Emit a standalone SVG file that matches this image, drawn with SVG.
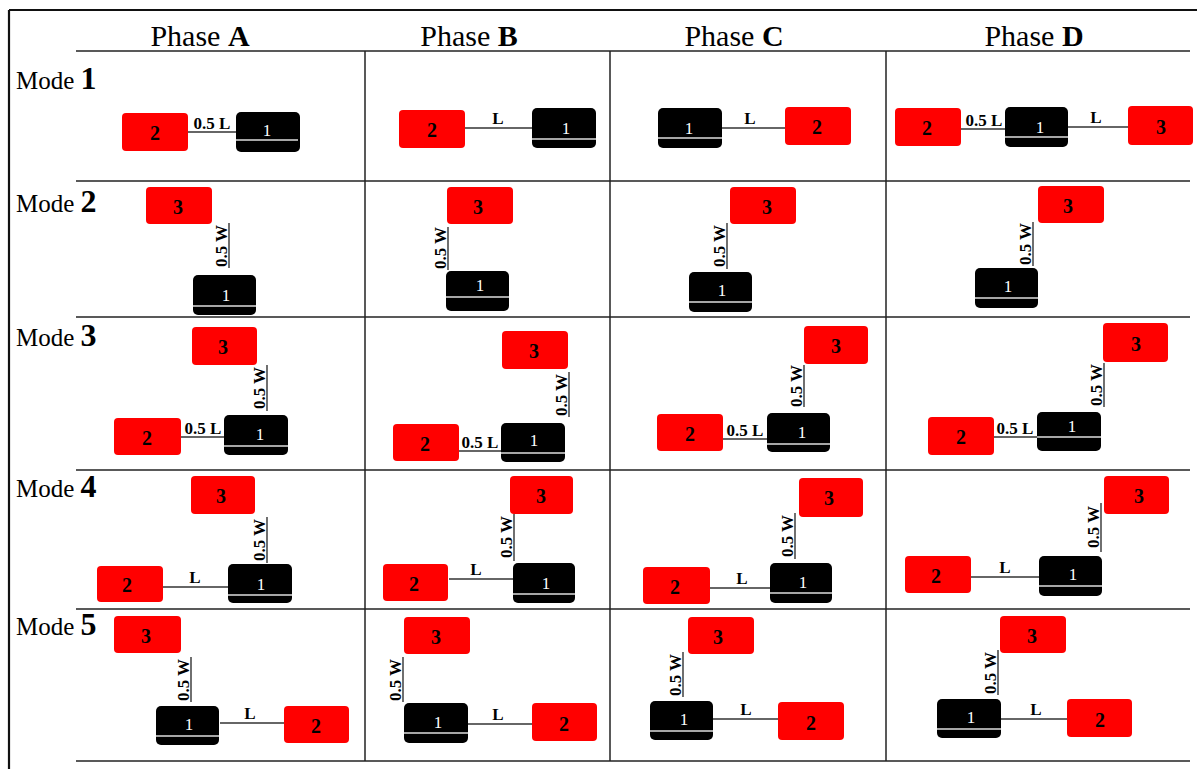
<svg xmlns="http://www.w3.org/2000/svg" width="1197" height="769" viewBox="0 0 1197 769">
  <style>
    .frame { stroke: #111; stroke-width: 2.2; fill: none; }
    .grid { stroke: #222; stroke-width: 1.5; fill: none; }
    .hd { font-family: "Liberation Serif", "Times New Roman", serif; font-size: 30px; fill: #000; text-anchor: middle; }
    .md { font-family: "Liberation Serif", "Times New Roman", serif; font-size: 25px; fill: #000; }
    .num { font-weight: bold; font-size: 32px; }
    .red { fill: #ff0000; }
    .blk { fill: #000; }
    .wl { stroke: #dedede; stroke-width: 1.6; }
    .rt { font-family: "Liberation Serif", "Times New Roman", serif; font-size: 20px; font-weight: bold; fill: #000; text-anchor: middle; }
    .bt { font-family: "Liberation Serif", "Times New Roman", serif; font-size: 17px; fill: #fff; text-anchor: middle; }
    .cn { stroke: #333; stroke-width: 1.4; fill: none; }
    .lb { font-family: "Liberation Serif", "Times New Roman", serif; font-size: 17px; font-weight: bold; fill: #000; text-anchor: middle; }
  </style>

  <!-- table frame and rules -->
  <g id="grid">
    <line class="frame" x1="9" y1="10" x2="1197" y2="10"/>
    <line class="frame" x1="9" y1="10" x2="9" y2="769"/>
    <line class="grid" x1="76" y1="51" x2="1190" y2="51"/>
    <line class="grid" x1="76" y1="181" x2="1190" y2="181"/>
    <line class="grid" x1="76" y1="317" x2="1190" y2="317"/>
    <line class="grid" x1="76" y1="470" x2="1190" y2="470"/>
    <line class="grid" x1="76" y1="609" x2="1190" y2="609"/>
    <line class="grid" x1="76" y1="761" x2="1190" y2="761"/>
    <line class="grid" x1="365" y1="51" x2="365" y2="761"/>
    <line class="grid" x1="610" y1="51" x2="610" y2="761"/>
    <line class="grid" x1="886" y1="51" x2="886" y2="761"/>
  </g>

  <!-- column and row headings -->
  <g id="headings">
    <text class="hd" x="200" y="46">Phase <tspan font-weight="bold">A</tspan></text>
    <text class="hd" x="469" y="46">Phase <tspan font-weight="bold">B</tspan></text>
    <text class="hd" x="734" y="46">Phase <tspan font-weight="bold">C</tspan></text>
    <text class="hd" x="1034" y="46">Phase <tspan font-weight="bold">D</tspan></text>
    <text class="md" x="16" y="89">Mode <tspan class="num">1</tspan></text>
    <text class="md" x="16" y="212">Mode <tspan class="num">2</tspan></text>
    <text class="md" x="16" y="346">Mode <tspan class="num">3</tspan></text>
    <text class="md" x="16" y="497">Mode <tspan class="num">4</tspan></text>
    <text class="md" x="16" y="635">Mode <tspan class="num">5</tspan></text>
  </g>

  <!-- links between units, with spacing labels -->
  <g id="connectors">
    <!-- Mode 1 -->
    <line class="cn" x1="188" y1="132" x2="236" y2="132"/><text class="lb" x="212" y="129">0.5 L</text>
    <line class="cn" x1="465" y1="128" x2="532" y2="128"/><text class="lb" x="498" y="124">L</text>
    <line class="cn" x1="722" y1="128" x2="785" y2="128"/><text class="lb" x="750" y="124">L</text>
    <line class="cn" x1="961" y1="129" x2="1005" y2="129"/><text class="lb" x="984" y="126">0.5 L</text>
    <line class="cn" x1="1068" y1="127" x2="1128" y2="127"/><text class="lb" x="1096" y="123">L</text>
    <!-- Mode 2 -->
    <line class="cn" x1="229" y1="223" x2="229" y2="268"/><text class="lb" transform="translate(227,246) rotate(-90)">0.5 W</text>
    <line class="cn" x1="448" y1="227" x2="448" y2="270"/><text class="lb" transform="translate(446,248) rotate(-90)">0.5 W</text>
    <line class="cn" x1="727" y1="223" x2="727" y2="269"/><text class="lb" transform="translate(725,246) rotate(-90)">0.5 W</text>
    <line class="cn" x1="1033" y1="222" x2="1033" y2="266"/><text class="lb" transform="translate(1031,244) rotate(-90)">0.5 W</text>
    <!-- Mode 3 -->
    <line class="cn" x1="181" y1="437" x2="224" y2="437"/><text class="lb" x="203" y="434">0.5 L</text>
    <line class="cn" x1="267" y1="365" x2="267" y2="411"/><text class="lb" transform="translate(265,388) rotate(-90)">0.5 W</text>
    <line class="cn" x1="459" y1="451" x2="501" y2="451"/><text class="lb" x="480" y="448">0.5 L</text>
    <line class="cn" x1="569" y1="372" x2="569" y2="417"/><text class="lb" transform="translate(567,395) rotate(-90)">0.5 W</text>
    <line class="cn" x1="723" y1="439" x2="767" y2="439"/><text class="lb" x="745" y="436">0.5 L</text>
    <line class="cn" x1="804" y1="365" x2="804" y2="407"/><text class="lb" transform="translate(802,386) rotate(-90)">0.5 W</text>
    <line class="cn" x1="994" y1="437" x2="1037" y2="437"/><text class="lb" x="1015" y="434">0.5 L</text>
    <line class="cn" x1="1104" y1="363" x2="1104" y2="407"/><text class="lb" transform="translate(1102,385) rotate(-90)">0.5 W</text>
    <!-- Mode 4 -->
    <line class="cn" x1="163" y1="587" x2="228" y2="587"/><text class="lb" x="195" y="583">L</text>
    <line class="cn" x1="267" y1="517" x2="267" y2="563"/><text class="lb" transform="translate(265,540) rotate(-90)">0.5 W</text>
    <line class="cn" x1="449" y1="579" x2="513" y2="579"/><text class="lb" x="476" y="575">L</text>
    <line class="cn" x1="514" y1="514" x2="514" y2="561"/><text class="lb" transform="translate(512,537) rotate(-90)">0.5 W</text>
    <line class="cn" x1="709" y1="588" x2="770" y2="588"/><text class="lb" x="742" y="584">L</text>
    <line class="cn" x1="795" y1="513" x2="795" y2="559"/><text class="lb" transform="translate(793,536) rotate(-90)">0.5 W</text>
    <line class="cn" x1="971" y1="577" x2="1039" y2="577"/><text class="lb" x="1005" y="573">L</text>
    <line class="cn" x1="1101" y1="503" x2="1101" y2="552"/><text class="lb" transform="translate(1099,527) rotate(-90)">0.5 W</text>
    <!-- Mode 5 -->
    <line class="cn" x1="220" y1="723" x2="284" y2="723"/><text class="lb" x="250" y="719">L</text>
    <line class="cn" x1="191" y1="657" x2="191" y2="702"/><text class="lb" transform="translate(189,680) rotate(-90)">0.5 W</text>
    <line class="cn" x1="468" y1="724" x2="532" y2="724"/><text class="lb" x="498" y="720">L</text>
    <line class="cn" x1="403" y1="657" x2="403" y2="702"/><text class="lb" transform="translate(401,680) rotate(-90)">0.5 W</text>
    <line class="cn" x1="713" y1="719" x2="778" y2="719"/><text class="lb" x="746" y="715">L</text>
    <line class="cn" x1="683" y1="652" x2="683" y2="697"/><text class="lb" transform="translate(681,675) rotate(-90)">0.5 W</text>
    <line class="cn" x1="1001" y1="719" x2="1067" y2="719"/><text class="lb" x="1036" y="715">L</text>
    <line class="cn" x1="998" y1="650" x2="998" y2="695"/><text class="lb" transform="translate(996,673) rotate(-90)">0.5 W</text>
  </g>

  <!-- units: red = 2/3, black = 1 (white rail near the bottom) -->
  <!-- Mode 1 -->
  <g id="m1a-u2"><rect class="red" x="122" y="113" width="66" height="38" rx="4"/><text class="rt" x="155" y="140">2</text></g>
  <g id="m1a-u1"><rect class="blk" x="236" y="112" width="64" height="40" rx="5"/><line class="wl" x1="236" y1="140" x2="298" y2="140"/><text class="bt" x="267" y="136">1</text></g>
  <g id="m1b-u2"><rect class="red" x="399" y="110" width="66" height="38" rx="4"/><text class="rt" x="432" y="137">2</text></g>
  <g id="m1b-u1"><rect class="blk" x="532" y="108" width="64" height="40" rx="5"/><line class="wl" x1="532" y1="139" x2="596" y2="139"/><text class="bt" x="566" y="134">1</text></g>
  <g id="m1c-u1"><rect class="blk" x="658" y="108" width="64" height="40" rx="5"/><line class="wl" x1="658" y1="138" x2="722" y2="138"/><text class="bt" x="689" y="134">1</text></g>
  <g id="m1c-u2"><rect class="red" x="785" y="107" width="66" height="38" rx="4"/><text class="rt" x="817" y="134">2</text></g>
  <g id="m1d-u2"><rect class="red" x="895" y="108" width="66" height="38" rx="4"/><text class="rt" x="927" y="135">2</text></g>
  <g id="m1d-u1"><rect class="blk" x="1005" y="107" width="63" height="40" rx="5"/><line class="wl" x1="1005" y1="137" x2="1068" y2="137"/><text class="bt" x="1040" y="133">1</text></g>
  <g id="m1d-u3"><rect class="red" x="1128" y="106" width="65" height="39" rx="4"/><text class="rt" x="1161" y="134">3</text></g>

  <!-- Mode 2 -->
  <g id="m2a-u3"><rect class="red" x="146" y="187" width="66" height="37" rx="4"/><text class="rt" x="178" y="214">3</text></g>
  <g id="m2a-u1"><rect class="blk" x="193" y="275" width="63" height="40" rx="5"/><line class="wl" x1="193" y1="306" x2="256" y2="306"/><text class="bt" x="226" y="301">1</text></g>
  <g id="m2b-u3"><rect class="red" x="447" y="187" width="66" height="37" rx="4"/><text class="rt" x="478" y="214">3</text></g>
  <g id="m2b-u1"><rect class="blk" x="446" y="271" width="63" height="40" rx="5"/><line class="wl" x1="446" y1="297" x2="509" y2="297"/><text class="bt" x="480" y="291">1</text></g>
  <g id="m2c-u3"><rect class="red" x="730" y="187" width="66" height="37" rx="4"/><text class="rt" x="767" y="214">3</text></g>
  <g id="m2c-u1"><rect class="blk" x="689" y="272" width="63" height="40" rx="5"/><line class="wl" x1="689" y1="302" x2="752" y2="302"/><text class="bt" x="722" y="296">1</text></g>
  <g id="m2d-u3"><rect class="red" x="1038" y="186" width="66" height="37" rx="4"/><text class="rt" x="1068" y="213">3</text></g>
  <g id="m2d-u1"><rect class="blk" x="975" y="268" width="63" height="40" rx="5"/><line class="wl" x1="975" y1="298" x2="1038" y2="298"/><text class="bt" x="1008" y="292">1</text></g>

  <!-- Mode 3 -->
  <g id="m3a-u3"><rect class="red" x="192" y="327" width="65" height="38" rx="4"/><text class="rt" x="223" y="354">3</text></g>
  <g id="m3a-u1"><rect class="blk" x="224" y="415" width="64" height="40" rx="5"/><line class="wl" x1="224" y1="446" x2="288" y2="446"/><text class="bt" x="260" y="440">1</text></g>
  <g id="m3a-u2"><rect class="red" x="114" y="418" width="67" height="37" rx="4"/><text class="rt" x="147" y="445">2</text></g>
  <g id="m3b-u3"><rect class="red" x="502" y="331" width="66" height="38" rx="4"/><text class="rt" x="534" y="358">3</text></g>
  <g id="m3b-u1"><rect class="blk" x="501" y="423" width="64" height="39" rx="5"/><line class="wl" x1="501" y1="453" x2="565" y2="453"/><text class="bt" x="534" y="446">1</text></g>
  <g id="m3b-u2"><rect class="red" x="393" y="424" width="66" height="37" rx="4"/><text class="rt" x="425" y="451">2</text></g>
  <g id="m3c-u3"><rect class="red" x="804" y="326" width="64" height="38" rx="4"/><text class="rt" x="836" y="353">3</text></g>
  <g id="m3c-u1"><rect class="blk" x="767" y="413" width="63" height="39" rx="5"/><line class="wl" x1="767" y1="444" x2="830" y2="444"/><text class="bt" x="802" y="438">1</text></g>
  <g id="m3c-u2"><rect class="red" x="657" y="414" width="66" height="37" rx="4"/><text class="rt" x="690" y="441">2</text></g>
  <g id="m3d-u3"><rect class="red" x="1103" y="323" width="65" height="39" rx="4"/><text class="rt" x="1136" y="351">3</text></g>
  <g id="m3d-u1"><rect class="blk" x="1037" y="412" width="64" height="39" rx="5"/><line class="wl" x1="1037" y1="437" x2="1101" y2="437"/><text class="bt" x="1072" y="432">1</text></g>
  <g id="m3d-u2"><rect class="red" x="928" y="417" width="66" height="38" rx="4"/><text class="rt" x="961" y="444">2</text></g>

  <!-- Mode 4 -->
  <g id="m4a-u3"><rect class="red" x="191" y="476" width="64" height="38" rx="4"/><text class="rt" x="221" y="503">3</text></g>
  <g id="m4a-u1"><rect class="blk" x="228" y="564" width="64" height="39" rx="5"/><line class="wl" x1="228" y1="595" x2="292" y2="595"/><text class="bt" x="261" y="590">1</text></g>
  <g id="m4a-u2"><rect class="red" x="97" y="566" width="66" height="36" rx="4"/><text class="rt" x="127" y="592">2</text></g>
  <g id="m4b-u3"><rect class="red" x="510" y="476" width="63" height="38" rx="4"/><text class="rt" x="541" y="503">3</text></g>
  <g id="m4b-u1"><rect class="blk" x="513" y="563" width="62" height="40" rx="5"/><line class="wl" x1="513" y1="594" x2="575" y2="594"/><text class="bt" x="546" y="589">1</text></g>
  <g id="m4b-u2"><rect class="red" x="383" y="564" width="65" height="37" rx="4"/><text class="rt" x="414" y="591">2</text></g>
  <g id="m4c-u3"><rect class="red" x="799" y="478" width="64" height="39" rx="4"/><text class="rt" x="829" y="505">3</text></g>
  <g id="m4c-u1"><rect class="blk" x="770" y="563" width="62" height="40" rx="5"/><line class="wl" x1="770" y1="593" x2="832" y2="593"/><text class="bt" x="803" y="588">1</text></g>
  <g id="m4c-u2"><rect class="red" x="643" y="567" width="67" height="37" rx="4"/><text class="rt" x="675" y="594">2</text></g>
  <g id="m4d-u3"><rect class="red" x="1104" y="476" width="65" height="38" rx="4"/><text class="rt" x="1139" y="503">3</text></g>
  <g id="m4d-u1"><rect class="blk" x="1039" y="556" width="63" height="40" rx="5"/><line class="wl" x1="1039" y1="586" x2="1102" y2="586"/><text class="bt" x="1073" y="580">1</text></g>
  <g id="m4d-u2"><rect class="red" x="905" y="556" width="66" height="37" rx="4"/><text class="rt" x="936" y="583">2</text></g>

  <!-- Mode 5 -->
  <g id="m5a-u3"><rect class="red" x="114" y="616" width="67" height="37" rx="4"/><text class="rt" x="146" y="643">3</text></g>
  <g id="m5a-u1"><rect class="blk" x="156" y="706" width="63" height="39" rx="5"/><line class="wl" x1="156" y1="736" x2="219" y2="736"/><text class="bt" x="189" y="730">1</text></g>
  <g id="m5a-u2"><rect class="red" x="284" y="706" width="65" height="37" rx="4"/><text class="rt" x="316" y="733">2</text></g>
  <g id="m5b-u3"><rect class="red" x="404" y="617" width="66" height="37" rx="4"/><text class="rt" x="436" y="644">3</text></g>
  <g id="m5b-u1"><rect class="blk" x="404" y="703" width="64" height="40" rx="5"/><line class="wl" x1="404" y1="733" x2="468" y2="733"/><text class="bt" x="438" y="728">1</text></g>
  <g id="m5b-u2"><rect class="red" x="532" y="703" width="65" height="38" rx="4"/><text class="rt" x="564" y="731">2</text></g>
  <g id="m5c-u3"><rect class="red" x="688" y="617" width="66" height="37" rx="4"/><text class="rt" x="718" y="644">3</text></g>
  <g id="m5c-u1"><rect class="blk" x="650" y="701" width="63" height="39" rx="5"/><line class="wl" x1="650" y1="731" x2="713" y2="731"/><text class="bt" x="684" y="725">1</text></g>
  <g id="m5c-u2"><rect class="red" x="778" y="702" width="66" height="38" rx="4"/><text class="rt" x="811" y="730">2</text></g>
  <g id="m5d-u3"><rect class="red" x="1000" y="616" width="66" height="37" rx="4"/><text class="rt" x="1032" y="643">3</text></g>
  <g id="m5d-u1"><rect class="blk" x="937" y="699" width="64" height="39" rx="5"/><line class="wl" x1="937" y1="729" x2="1001" y2="729"/><text class="bt" x="971" y="723">1</text></g>
  <g id="m5d-u2"><rect class="red" x="1067" y="699" width="65" height="38" rx="4"/><text class="rt" x="1100" y="727">2</text></g>
</svg>
